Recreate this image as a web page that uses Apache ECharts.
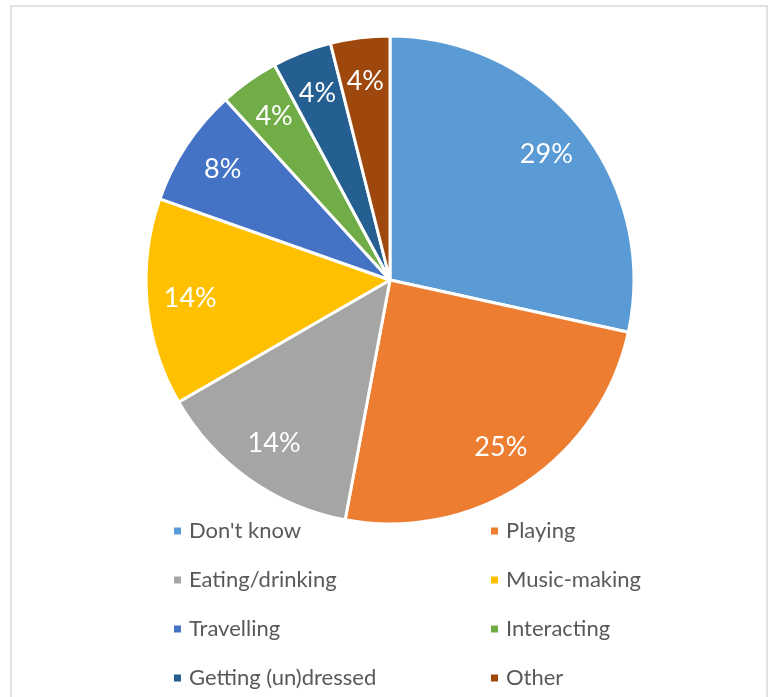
<!DOCTYPE html>
<html>
<head>
<meta charset="utf-8">
<script src="https://cdn.jsdelivr.net/npm/echarts@6/dist/echarts.min.js"></script>
<style>
  html, body { margin: 0; padding: 0; background: #fff; }
  #chart { width: 776px; height: 697px; }
</style>
</head>
<body>
<div id="chart"></div>
<script>
// Activity categories and their shares (percent)
const categories = ['Don\'t know', 'Playing', 'Eating/drinking', 'Music-making',
                    'Travelling', 'Interacting', 'Getting (un)dressed', 'Other'];
const shares = [29, 25, 14, 14, 8, 4, 4, 4];
const sliceColors = ['#5B9BD5', '#ED7D31', '#A5A5A5', '#FFC000',
                     '#4472C4', '#70AD47', '#255E91', '#9E480E'];

const FONT = 'Lato, "Open Sans", "Noto Sans", sans-serif';
const CX = 390, CY = 280, R = 244;

const pieData = categories.map((name, i) => ({
  name: name,
  value: shares[i],
  itemStyle: { color: sliceColors[i] }
}));

const labelData = categories.map((name, i) => ({ name: name, value: shares[i] }));

const chart = echarts.init(document.getElementById('chart'), null, { renderer: 'canvas' });

const legendCommon = {
  orient: 'vertical',
  icon: 'rect',
  itemWidth: 9,
  itemHeight: 9,
  itemGap: 27,
  top: 520,
  padding: 0,
  selectedMode: false,
  textStyle: { color: '#595959', fontSize: 22, fontFamily: FONT, lineHeight: 21, padding: [0, 0, 0, 2] }
};

chart.setOption({
  animation: false,
  backgroundColor: '#ffffff',
  graphic: [{
    type: 'rect',
    shape: { x: 11, y: 6, width: 756, height: 720 },
    style: { fill: 'none', stroke: '#d9d9d9', lineWidth: 1.5 },
    silent: true
  }],
  legend: [
    Object.assign({}, legendCommon, {
      left: 172,
      data: [categories[0], categories[2], categories[4], categories[6]]
    }),
    Object.assign({}, legendCommon, {
      left: 489,
      data: [categories[1], categories[3], categories[5], categories[7]]
    })
  ],
  series: [
    {
      type: 'pie',
      center: [CX, CY],
      radius: [0, R],
      startAngle: 90,
      clockwise: true,
      avoidLabelOverlap: false,
      label: { show: false },
      labelLine: { show: false },
      itemStyle: { borderColor: '#ffffff', borderWidth: 3 },
      emphasis: { disabled: true },
      data: pieData
    },
    {
      // transparent ring used only to place the value labels toward the rim
      type: 'pie',
      center: [CX, CY],
      radius: [R * 0.62, R],
      startAngle: 90,
      clockwise: true,
      silent: true,
      avoidLabelOverlap: false,
      itemStyle: { color: 'rgba(0,0,0,0)', borderWidth: 0 },
      label: {
        show: true,
        position: 'inside',
        formatter: '{c}%',
        color: '#ffffff',
        fontSize: 27,
        fontFamily: FONT
      },
      labelLine: { show: false },
      emphasis: { disabled: true },
      data: labelData
    }
  ]
});
</script>
</body>
</html>
